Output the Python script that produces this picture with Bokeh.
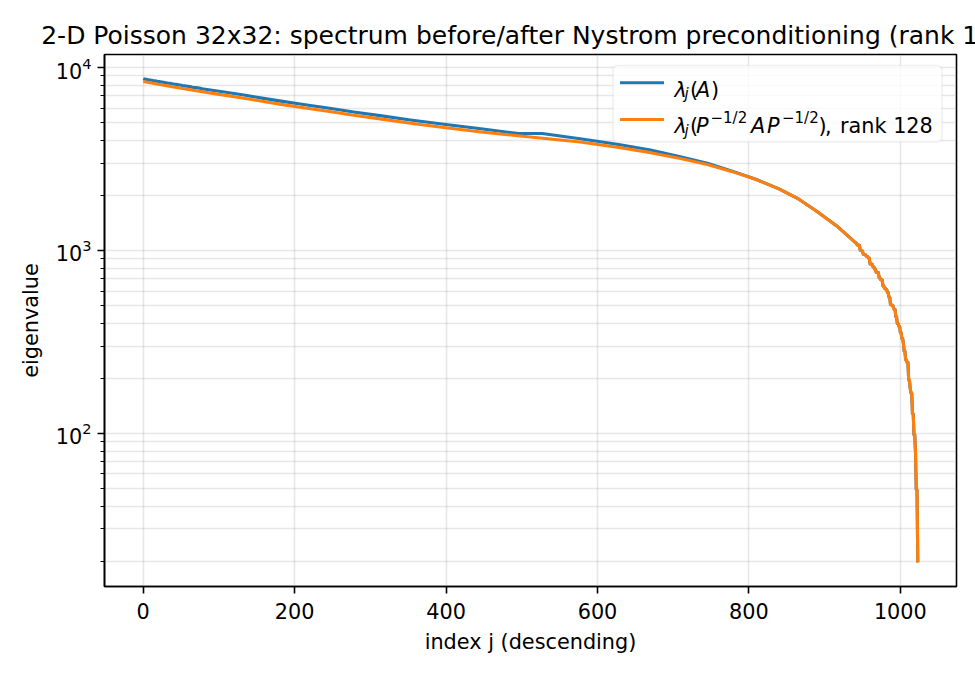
import math

from bokeh.embed import file_html
from bokeh.models import BoxAnnotation, FixedTicker, Label, Range1d
from bokeh.plotting import figure
from bokeh.resources import INLINE

# ---------------------------------------------------------------------------
# Spectrum of the 2-D Poisson matrix (32x32 grid), eigenvalues in descending order
# ---------------------------------------------------------------------------
# leading block (indices 0..82)
head_idx = list(range(0, 83))
head_eig = [
    8692.3, 8662.8, 8662.8, 8633.3, 8613.9, 8613.9, 8584.4, 8584.4, 8546.1, 8546.1,
    8535.6, 8516.6, 8516.6, 8467.8, 8467.8, 8460.0, 8460.0, 8430.5, 8430.5, 8400.0,
    8381.7, 8381.7, 8356.4, 8356.4, 8326.9, 8326.9, 8313.9, 8313.9, 8278.0, 8278.0,
    8236.2, 8236.2, 8227.8, 8210.2, 8210.2, 8206.7, 8206.7, 8157.8, 8157.8, 8124.1,
    8124.1, 8100.4, 8100.4, 8090.0, 8090.0, 8070.9, 8070.9, 8022.1, 8022.1, 8020.5,
    8003.9, 8003.9, 7954.3, 7954.3, 7950.4, 7950.4, 7920.9, 7920.9, 7900.3, 7900.3,
    7872.1, 7872.1, 7868.2, 7868.2, 7804.3, 7804.3, 7787.5, 7787.5, 7780.1, 7764.5,
    7764.5, 7758.0, 7758.0, 7718.2, 7718.2, 7709.1, 7709.1, 7644.3, 7644.3, 7641.4,
    7641.4, 7613.1, 7613.1,
]

# bulk of the spectrum
mid_idx = [107, 133, 157, 184, 214, 246, 278, 315, 353, 397, 446, 496, 527,
           577, 626, 670, 708, 745, 777, 809, 839, 866, 890, 916]
mid_eig = [7350.8, 7078.5, 6806.3, 6534.0, 6261.8, 5989.5, 5717.3, 5445.0,
           5172.8, 4900.5, 4628.3, 4356.0, 4356.0, 4083.8, 3811.5, 3539.3,
           3267.0, 2994.8, 2722.5, 2450.3, 2178.0, 1905.8, 1633.5, 1361.3]

# trailing block (indices 941..1023), shared by both curves
tail_idx = list(range(941, 1024))
tail_eig = [
    1098.9, 1098.9, 1070.7, 1070.7, 1067.7, 1067.7, 1002.9, 1002.9, 993.8, 993.8,
    954.0, 954.0, 947.5, 947.5, 932.0, 924.5, 924.5, 907.7, 907.7, 843.8,
    843.8, 839.9, 839.9, 811.7, 811.7, 791.1, 791.1, 761.6, 761.6, 757.7,
    757.7, 708.1, 708.1, 691.5, 689.9, 689.9, 641.1, 641.1, 622.0, 622.0,
    611.6, 611.6, 587.9, 587.9, 554.2, 554.2, 505.3, 505.3, 501.8, 501.8,
    484.2, 475.8, 475.8, 434.0, 434.0, 398.1, 398.1, 385.1, 385.1, 355.6,
    355.6, 330.3, 330.3, 312.0, 281.5, 281.5, 252.0, 252.0, 244.2, 244.2,
    195.4, 195.4, 176.5, 165.9, 165.9, 127.6, 127.6, 98.1, 98.1, 78.7,
    49.2, 49.2, 19.7,
]

# preconditioned spectrum (rank-128 Nystrom), leading and bulk part
prec_idx = [0, 40, 82, 107, 133, 157, 184, 214, 246, 278, 315, 353, 397, 446,
            511, 577, 626, 670, 708, 745, 777, 809, 839, 866, 890, 916]
prec_eig = [8400.0, 7832.0, 7324.0, 7071.0, 6802.0, 6541.0, 6273.0, 6011.0,
            5750.0, 5489.0, 5227.0, 4966.0, 4700.0, 4439.0, 4173.0, 3916.0,
            3667.0, 3426.0, 3189.0, 2953.0, 2706.0, 2448.0, 2178.0, 1905.8,
            1633.5, 1361.3]

idx_A = head_idx + mid_idx + tail_idx
eig_A = head_eig + mid_eig + tail_eig
idx_P = prec_idx + tail_idx
eig_P = prec_eig + tail_eig

x_ticks = [0, 200, 400, 600, 800, 1000]
y_ticks = [100, 1000, 10000]
y_minor_ticks = [m * 10 ** k for k in (1, 2, 3) for m in range(2, 10)]

TITLE = "2-D Poisson 32x32: spectrum before/after Nystrom preconditioning (rank 128)"

# ---------------------------------------------------------------------------
# figure geometry
# ---------------------------------------------------------------------------
W, H = 975, 675
F_LEFT, F_RIGHT, F_TOP, F_BOTTOM = 104, 956, 54, 586
X0, X1 = -51.15, 1074.15
Y0, Y1 = 14.54, 11788.0

FONT = "DejaVu Sans"
FS = "20.8px"
FS_SMALL = "15px"
BLUE = "#1f77b4"
ORANGE = "#ff7f0e"
GRID = "#b0b0b0"


def px_to_x(px):
    return X0 + (px - F_LEFT) / (F_RIGHT - F_LEFT) * (X1 - X0)


def px_to_y(py):
    lo, hi = math.log10(Y0), math.log10(Y1)
    return 10 ** (hi - (py - F_TOP) / (F_BOTTOM - F_TOP) * (hi - lo))


p = figure(
    width=W, height=H,
    y_axis_type="log",
    x_range=Range1d(X0, X1), y_range=Range1d(Y0, Y1),
    output_backend="svg", toolbar_location=None,
    min_border_left=F_LEFT, min_border_right=W - F_RIGHT,
    min_border_top=F_TOP, min_border_bottom=H - F_BOTTOM,
    background_fill_color="white", border_fill_color="white",
)

# title
p.title.text = TITLE
p.title.align = "center"
p.title.text_font = FONT
p.title.text_font_size = "25px"
p.title.text_font_style = "normal"
p.title.text_color = "black"

# frame
p.outline_line_color = "black"
p.outline_line_width = 1.6
p.outline_line_alpha = 1.0

# axes
for ax in (p.xaxis[0], p.yaxis[0]):
    ax.major_label_text_font = FONT
    ax.major_label_text_font_size = FS
    ax.major_label_text_color = "black"
    ax.axis_line_color = "black"
    ax.axis_line_width = 1.6
    ax.major_tick_line_color = "black"
    ax.major_tick_line_width = 1.6
    ax.major_tick_out = 7
    ax.major_tick_in = 0
    ax.minor_tick_line_color = "black"
    ax.minor_tick_line_width = 1.2
    ax.minor_tick_out = 4
    ax.minor_tick_in = 0
    ax.axis_label_text_font = FONT
    ax.axis_label_text_font_size = FS
    ax.axis_label_text_font_style = "normal"
    ax.axis_label_text_color = "black"

p.xaxis.ticker = FixedTicker(ticks=x_ticks)
p.xaxis.minor_tick_line_color = None
p.xaxis.major_label_standoff = 9
p.xaxis.axis_label = "index j (descending)"
p.xaxis.axis_label_standoff = 8

p.yaxis.ticker = FixedTicker(ticks=y_ticks, minor_ticks=y_minor_ticks)
p.yaxis.major_label_standoff = 6
p.yaxis.axis_label = "eigenvalue"
p.yaxis.axis_label_standoff = 10

# grid
p.xgrid.grid_line_color = GRID
p.xgrid.grid_line_alpha = 0.3
p.xgrid.grid_line_width = 1.6
p.ygrid.grid_line_color = GRID
p.ygrid.grid_line_alpha = 0.3
p.ygrid.grid_line_width = 1.6
p.ygrid.minor_grid_line_color = GRID
p.ygrid.minor_grid_line_alpha = 0.3
p.ygrid.minor_grid_line_width = 1.6

# spectra
p.line(idx_A, eig_A, line_color=BLUE, line_width=3.1, line_join="round")
p.line(idx_P, eig_P, line_color=ORANGE, line_width=3.1, line_join="round")


def add_text(px, py, text, italic=False, size=FS, align="left"):
    p.add_layout(Label(
        x=px_to_x(px), y=px_to_y(py), text=text,
        text_font=FONT, text_font_size=size,
        text_font_style="italic" if italic else "normal",
        text_color="black", text_align=align, text_baseline="alphabetic",
    ))


# legend box
p.add_layout(BoxAnnotation(
    left=px_to_x(612.5), right=px_to_x(941.5),
    top=px_to_y(65.0), bottom=px_to_y(141.5),
    fill_color="white", fill_alpha=0.8,
    line_color="#cccccc", line_width=1.6, border_radius=5,
))

ROW1, ROW2 = 82.3, 119.0
for row, col in ((ROW1, BLUE), (ROW2, ORANGE)):
    seg = p.segment(x0=[px_to_x(619.5)], y0=[px_to_y(row)],
                    x1=[px_to_x(663.5)], y1=[px_to_y(row)],
                    line_color=col, line_width=3.1)
    seg.level = "overlay"

B1, B2 = ROW1 + 6.8, ROW2 + 6.8
SUB, SUP = 4.5, -8.5

# row 1: lambda_j(A)
add_text(674.0, B1, "λ", italic=True)
add_text(684.0, B1 + SUB, "j", italic=True, size=FS_SMALL)
add_text(689.5, B1, "(")
add_text(695.5, B1, "A", italic=True)
add_text(710.5, B1, ")")

# row 2: lambda_j(P^-1/2 A P^-1/2), rank 128
add_text(674.0, B2, "λ", italic=True)
add_text(684.0, B2 + SUB, "j", italic=True, size=FS_SMALL)
add_text(689.5, B2, "(")
add_text(695.5, B2, "P", italic=True)
add_text(710.0, B2 + SUP, "−1/2", size=FS_SMALL)
add_text(750.5, B2, "A", italic=True)
add_text(766.5, B2, "P", italic=True)
add_text(781.5, B2 + SUP, "−1/2", size=FS_SMALL)
add_text(818.0, B2, ")")
add_text(824.5, B2, ",")
add_text(839.5, B2, "rank 128")

open("out.html", "w").write(file_html(p, INLINE))
